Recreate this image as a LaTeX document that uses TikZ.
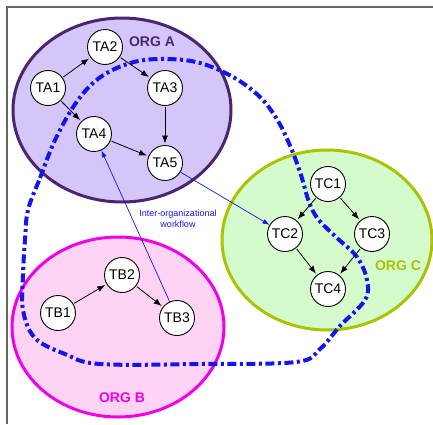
\documentclass[tikz,border=0pt]{standalone}
\usepackage{fontspec}
\setmainfont{Liberation Sans}
\usetikzlibrary{arrows.meta}
\definecolor{orgafill}{RGB}{213,198,250}
\definecolor{orgaline}{RGB}{75,38,112}
\definecolor{orgbfill}{RGB}{255,211,243}
\definecolor{orgbline}{RGB}{240,0,230}
\definecolor{orgcfill}{RGB}{213,250,203}
\definecolor{orgcline}{RGB}{168,196,0}
\definecolor{flowblue}{RGB}{20,20,235}
\tikzstyle{task}=[draw,circle,fill=white,minimum size=35pt,inner sep=0pt,
                  line width=0.9pt,font=\fontsize{14}{14}\selectfont]
\tikzstyle{org}=[line width=3pt]
\tikzstyle{orglabel}=[font=\fontsize{14}{14}\selectfont\bfseries]
\tikzstyle{flow}=[-{Latex[length=7pt,width=5pt]},flowblue,line width=0.7pt]
\begin{document}
\begin{tikzpicture}[x=1pt,y=-1pt]
  \useasboundingbox (0,0) rectangle (433,424);
  \draw[gray!80!black,line width=1.5pt] (7,424) -- (7,7) -- (433,7);
  % Organisations
  \draw[org,orgaline,fill=orgafill] (122,110) ellipse [x radius=109,y radius=92];
  \draw[org,orgcline,fill=orgcfill] (327,240) ellipse [x radius=105,y radius=90];
  \draw[org,orgbline,fill=orgbfill] (118,327) ellipse [x radius=106,y radius=90];
  \node[orglabel,text=orgaline] (orga) at (152,42) {ORG A};
  \node[orglabel,text=orgbline] (orgb) at (122,398) {ORG B};
  \node[orglabel,text=orgcline] (orgc) at (398,266) {ORG C};
  %
  % Inter-organizational boundary
  \draw[flowblue,line width=4pt,dash pattern=on 9pt off 3.5pt on 3pt off 3.5pt]
    plot[smooth cycle,tension=0.6] coordinates {(28,210) (40,178) (56,138)
    (78,100) (102,76) (134,62) (167,59) (200,63) (233,77) (260,97) (278,121)
    (291,148) (301,175) (309,202) (318,219) (336,237) (357,257) (367,280)
    (365,300) (340,326) (320,349) (296,362) (200,364) (100,364) (65,354)
    (35,338) (23,310) (23,275) (25,240)};
  %
  % Place tasks
  \foreach \place/\name in {{(48,88)/TA1}, {(105,47)/TA2}, {(165,88)/TA3},
           {(94,134)/TA4}, {(165,163)/TA5}, {(58,313)/TB1}, {(122,275)/TB2},
           {(177,318)/TB3}, {(328,184)/TC1}, {(285,234)/TC2},
           {(372,234)/TC3}, {(328,289)/TC4}}
    \node[task] (\name) at \place {\name};
  \foreach \source/\dest in {TA1/TA2, TA2/TA3, TA1/TA4, TA3/TA5, TA4/TA5,
           TB1/TB2, TB2/TB3, TC1/TC2, TC1/TC3, TC2/TC4, TC3/TC4}
    \path[-{Latex[length=8pt,width=6pt]},line width=0.8pt,shorten <=1pt,
          shorten >=1.5pt] (\source) edge (\dest);
  %
  % Workflow between organisations
  \path[flow] (TA5) edge (TC2);
  \path[flow] (TB3) edge (TA4);
  \node[flowblue,align=center,font=\fontsize{9}{11}\selectfont] (wf) at (178,219)
    {Inter-organizational\\workflow};
\end{tikzpicture}
\end{document}
